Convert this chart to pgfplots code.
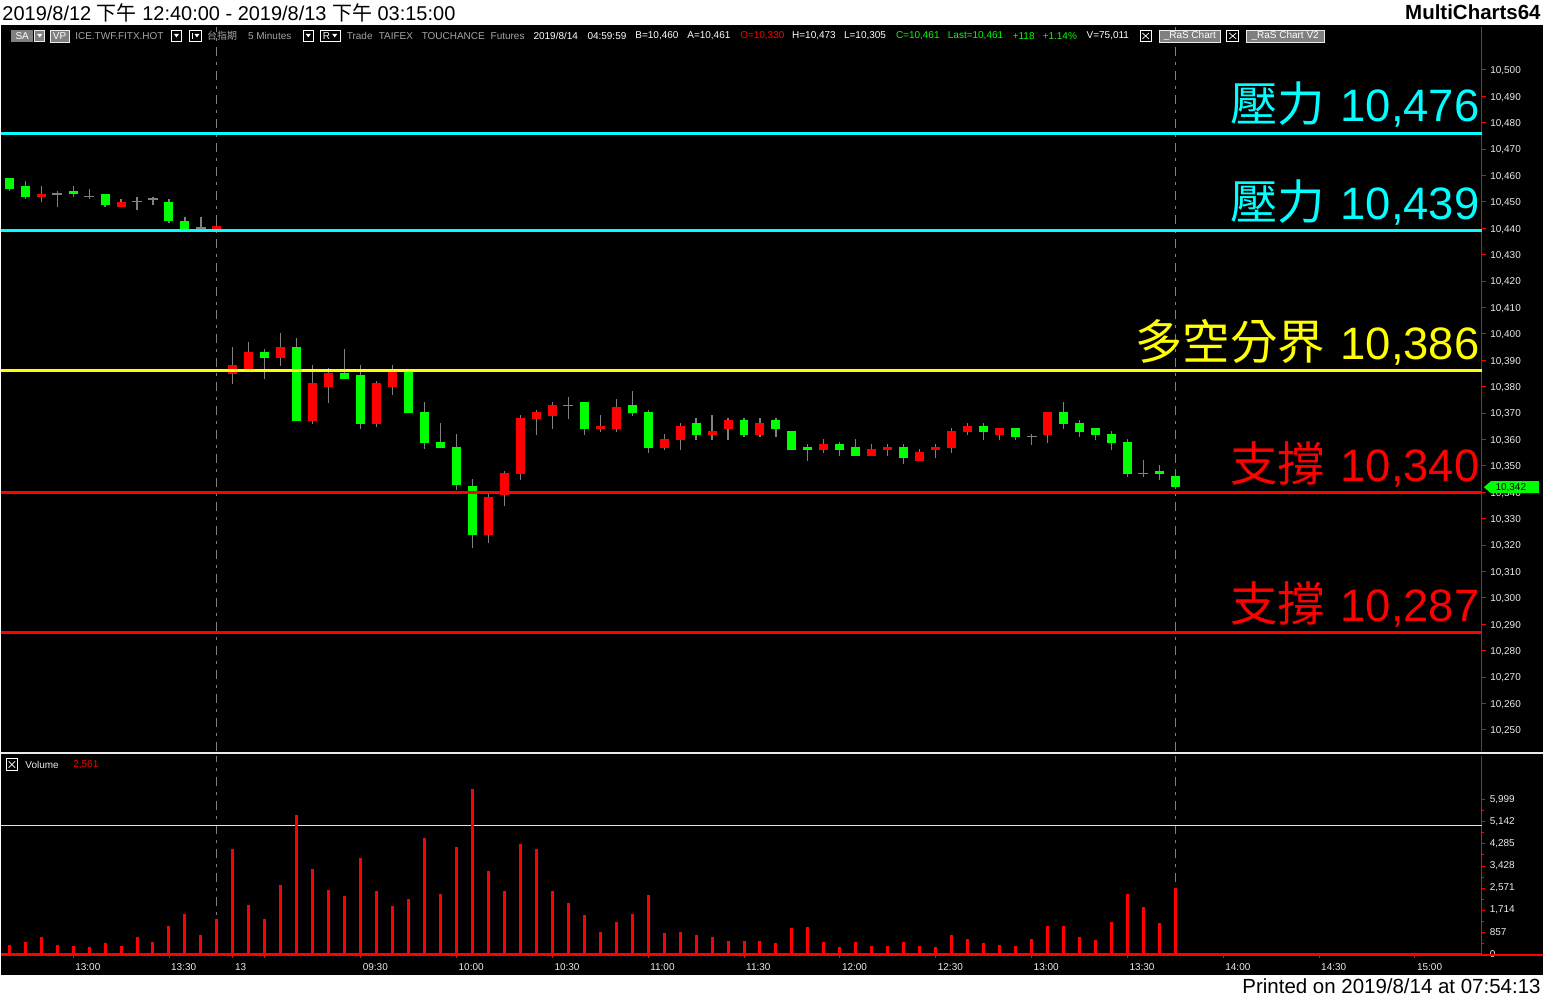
\documentclass[border=0pt]{standalone}
\usepackage{fontspec}
\setmainfont{Liberation Sans}
\newfontfamily\cjk{Noto Sans CJK TC}
\usepackage{pgfplots}
\usepackage{pgfplotstable}
\pgfplotsset{compat=1.18}

\definecolor{cy}{RGB}{0,255,255}
\definecolor{rd}{RGB}{255,0,0}
\definecolor{gn}{RGB}{0,255,0}
\definecolor{yl}{RGB}{255,255,0}
\definecolor{wk}{RGB}{128,128,128}
\definecolor{hdr}{RGB}{165,165,165}
\definecolor{lbl}{RGB}{235,235,235}
\definecolor{btn}{RGB}{128,128,128}

\newcommand\sm{\fontsize{10}{12}\selectfont}
\newcommand\lvlfont{\fontsize{45.5}{50}\selectfont}
\newcommand\bigcjk[1]{{\cjk\fontsize{47.5}{50}\selectfont #1}\hspace{3pt}}

\pgfplotstableread{
x o h l c
0 10459.2 10459.2 10454.0 10454.7
1 10456.1 10458.0 10451.0 10451.7
2 10451.7 10456.1 10449.8 10453.1
3 10453.0 10454.2 10447.9 10453.0
4 10454.2 10456.1 10451.7 10452.8
5 10451.9 10455.0 10451.0 10451.9
6 10453.1 10453.1 10447.9 10448.7
7 10447.9 10451.2 10447.9 10450.1
8 10450.0 10452.0 10446.8 10450.0
9 10451.1 10452.0 10448.7 10451.1
10 10450.1 10451.2 10441.9 10442.6
11 10442.9 10444.1 10439.5 10439.5
12 10440.1 10444.1 10438.7 10440.1
13 10439.8 10441.5 10439.0 10441.0
14 10384.8 10395.2 10381.0 10388.1
15 10386.5 10397.1 10386.0 10393.0
16 10393.0 10394.1 10382.9 10390.8
17 10390.8 10400.2 10387.8 10395.2
18 10395.2 10398.3 10367.0 10367.0
19 10367.0 10388.1 10365.9 10381.2
20 10379.8 10386.9 10373.8 10385.0
21 10385.0 10394.1 10382.9 10382.9
22 10384.3 10388.1 10364.0 10365.9
23 10365.9 10382.0 10364.7 10381.2
24 10379.8 10388.1 10376.8 10385.5
25 10386.0 10386.5 10370.0 10370.0
26 10370.3 10374.1 10356.4 10358.7
27 10358.9 10366.1 10356.8 10356.8
28 10357.0 10362.0 10340.9 10342.8
29 10342.3 10344.9 10319.0 10323.9
30 10323.9 10339.3 10320.8 10338.1
31 10339.0 10348.0 10334.8 10347.2
32 10346.8 10369.1 10344.7 10368.0
33 10367.7 10371.0 10361.7 10370.3
34 10368.9 10374.1 10364.0 10372.9
35 10372.9 10375.9 10367.7 10372.9
36 10374.1 10374.1 10361.7 10364.0
37 10364.0 10369.1 10362.8 10365.0
38 10364.0 10375.2 10362.8 10372.2
39 10372.9 10378.2 10368.9 10370.0
40 10370.3 10371.0 10354.9 10356.8
41 10356.8 10362.0 10356.0 10360.1
42 10359.8 10366.1 10356.0 10365.0
43 10366.1 10368.0 10359.8 10361.7
44 10361.7 10369.1 10359.8 10363.1
45 10364.0 10368.0 10359.8 10367.3
46 10367.3 10368.0 10361.0 10361.7
47 10361.7 10368.0 10361.0 10366.1
48 10367.3 10368.0 10361.0 10364.0
49 10363.1 10363.1 10356.0 10356.0
50 10357.0 10358.2 10351.9 10356.0
51 10356.0 10360.1 10354.9 10358.2
52 10358.2 10358.9 10353.8 10356.0
53 10357.0 10360.1 10353.8 10353.8
54 10353.8 10358.2 10353.8 10356.3
55 10356.0 10358.2 10353.8 10357.0
56 10357.0 10358.2 10350.7 10353.0
57 10351.9 10356.3 10351.9 10355.1
58 10356.0 10358.2 10353.0 10357.0
59 10356.8 10364.2 10354.9 10363.1
60 10362.7 10366.1 10361.7 10365.0
61 10365.0 10366.1 10359.8 10362.7
62 10361.7 10364.2 10359.8 10364.2
63 10364.2 10364.2 10359.8 10361.0
64 10361.2 10362.0 10357.9 10361.2
65 10361.7 10370.3 10358.7 10370.3
66 10370.3 10374.1 10364.0 10365.9
67 10366.1 10367.3 10361.0 10362.7
68 10364.2 10364.2 10359.8 10361.7
69 10362.0 10363.1 10356.0 10358.7
70 10358.9 10360.1 10345.8 10346.9
71 10347.2 10352.1 10345.8 10347.2
72 10348.0 10350.2 10344.7 10346.9
73 10346.1 10348.0 10341.3 10342.0
}\ohlc

\pgfplotstableread{
x v
0 337
1 454
2 648
3 337
4 299
5 260
6 415
7 299
8 648
9 454
10 1113
11 1578
12 725
13 1384
14 4099
15 1927
16 1384
17 2703
18 5418
19 3323
20 2509
21 2276
22 3750
23 2470
24 1889
25 2160
26 4526
27 2354
28 4177
29 6426
30 3246
31 2470
32 4293
33 4099
34 2470
35 2005
36 1540
37 842
38 1268
39 1578
40 2315
41 803
42 842
43 725
44 648
45 493
46 493
47 493
48 415
49 997
50 1074
51 454
52 260
53 454
54 299
55 299
56 454
57 299
58 260
59 725
60 570
61 415
62 337
63 299
64 570
65 1113
66 1113
67 648
68 531
69 1268
70 2354
71 1850
72 1191
73 2561
}\vol

\begin{document}
\begin{tikzpicture}[x=1pt,y=1pt]
\fill[white] (0,0) rectangle (1544,999);
\fill[black] (0,22) rectangle (1544,974);

% ---------------- price panel ----------------
\begin{axis}[at={(0pt,247pt)}, anchor=south west, width=1483pt, height=725pt, scale only axis,
  xmin=-0.5, xmax=92.1875, ymin=10242.07, ymax=10516.26,
  axis x line=none, axis y line*=right,
  y axis line style={draw=rd, line width=1pt, -},
  ytick={10250,10260,...,10500}, minor y tick num=1,
  tick align=outside, major tick length=4pt, minor tick length=2pt,
  tick style={rd, line width=0.8pt},
  yticklabel style={text=lbl, font=\sm, xshift=1pt, yshift=-1pt},
  scaled y ticks=false,
  /pgf/number format/fixed, /pgf/number format/precision=0,
  /pgf/number format/1000 sep={,}, /pgf/number format/assume math mode=true,
  clip mode=individual]

\addplot[wk, line width=1pt, dash pattern=on 9pt off 6pt on 3pt off 6pt] coordinates {(13,10242.07) (13,10516.26)};
\addplot[wk, line width=1pt, dash pattern=on 9pt off 6pt on 3pt off 6pt] coordinates {(73,10242.07) (73,10516.26)};

% wicks
\addplot[draw=none, mark=none, error bars/.cd, y dir=plus, y explicit, error mark=none,
  error bar style={draw=wk, line width=1.2pt}]
  table[x=x, y=l, y error plus expr=\thisrow{h}-\thisrow{l}] {\ohlc};
% up bodies (red)
\addplot[draw=none, mark=none, restrict expr to domain={\thisrow{c}-\thisrow{o}}{0.01:1000},
  error bars/.cd, y dir=plus, y explicit, error mark=none, error bar style={draw=rd, line width=9pt}]
  table[x=x, y=o, y error plus expr=\thisrow{c}-\thisrow{o}] {\ohlc};
% down bodies (green)
\addplot[draw=none, mark=none, restrict expr to domain={\thisrow{o}-\thisrow{c}}{0.01:1000},
  error bars/.cd, y dir=plus, y explicit, error mark=none, error bar style={draw=gn, line width=9pt}]
  table[x=x, y=c, y error plus expr=\thisrow{o}-\thisrow{c}] {\ohlc};
% doji
\addplot[draw=none, mark=none, restrict expr to domain={\thisrow{c}-\thisrow{o}}{-0.001:0.001},
  error bars/.cd, x dir=both, x fixed=0.3125, error mark=none, error bar style={draw=wk, line width=1.2pt}]
  table[x=x, y=o] {\ohlc};

% levels
\addplot[cy, line width=3pt] coordinates {(-0.5,10476) (92.1875,10476)};
\addplot[cy, line width=3pt] coordinates {(-0.5,10439) (92.1875,10439)};
\addplot[yl, line width=3pt] coordinates {(-0.5,10386) (92.1875,10386)};
\addplot[rd, line width=3pt] coordinates {(-0.5,10340) (92.1875,10340)};
\addplot[rd, line width=3pt] coordinates {(-0.5,10287) (92.1875,10287)};

\node[anchor=base east, inner sep=0, text=cy, font=\lvlfont, yshift=12pt] at (axis cs:92.06,10476) {\bigcjk{壓力} 10,476};
\node[anchor=base east, inner sep=0, text=cy, font=\lvlfont, yshift=11pt] at (axis cs:92.06,10439) {\bigcjk{壓力} 10,439};
\node[anchor=base east, inner sep=0, text=yl, font=\lvlfont, yshift=11pt] at (axis cs:92.06,10386) {\bigcjk{多空分界} 10,386};
\node[anchor=base east, inner sep=0, text=rd, font=\lvlfont, yshift=11pt] at (axis cs:92.06,10340) {\bigcjk{支撐} 10,340};
\node[anchor=base east, inner sep=0, text=rd, font=\lvlfont, yshift=11pt] at (axis cs:92.06,10287) {\bigcjk{支撐} 10,287};
\end{axis}

% ---------------- volume panel ----------------
\begin{axis}[at={(0pt,43.3pt)}, anchor=south west, width=1483pt, height=198.7pt, scale only axis,
  xmin=-0.5, xmax=92.1875, ymin=0, ymax=7706,
  axis x line*=bottom, axis y line*=right,
  x axis line style={draw=rd, line width=2pt, -},
  y axis line style={draw=rd, line width=1pt, -},
  xtick={4,10,14,16,22,28,34,40,46,52,58,64,70,76,82,88},
  xticklabels={13:00,13:30,13,{},09:30,10:00,10:30,11:00,11:30,12:00,12:30,13:00,13:30,14:00,14:30,15:00},
  xticklabel style={anchor=north west, text=lbl, font=\sm, inner sep=1pt, xshift=1pt, yshift=-5pt},
  ytick={0,857,...,5999}, minor y tick num=1,
  tick align=outside, major tick length=3.5pt, minor tick length=2pt,
  tick style={rd, line width=0.8pt},
  yticklabel style={text=lbl, font=\sm, xshift=1pt},
  scaled y ticks=false,
  /pgf/number format/fixed, /pgf/number format/precision=0,
  /pgf/number format/1000 sep={,}, /pgf/number format/assume math mode=true,
  clip mode=individual]
\addplot[wk, line width=1pt, dash pattern=on 9pt off 6pt on 3pt off 6pt] coordinates {(13,0) (13,7706)};
\addplot[wk, line width=1pt, dash pattern=on 9pt off 6pt on 3pt off 6pt] coordinates {(73,0) (73,7706)};
\addplot[yl, line width=1.3pt] coordinates {(-0.5,5000) (92.1875,5000)};
\addplot[ycomb, rd, line width=3pt, mark=none] table[x=x, y=v] {\vol};
\end{axis}

% separators and frame pieces
\draw[lbl, line width=2.5pt] (0,245) -- (1544,245);
\draw[rd, line width=2pt] (0,42.8) -- (1544,42.8);

% last-price tag
\fill[gn] (1485,511) -- (1492,517) -- (1540,517) -- (1540,505) -- (1492,505) -- cycle;
\node[anchor=center, inner sep=0, font=\sm, text=black] at (1512,511) {10,342};

% volume label
\draw[white, line width=0.7pt] (5,227.5) rectangle (16.5,239);
\draw[white, line width=0.7pt] (7.5,230) -- (14,236.5) (7.5,236.5) -- (14,230);
\node[anchor=west, inner sep=0, font=\sm, text=lbl] at (24,233) {Volume};
\node[anchor=west, inner sep=0, font=\sm, text=rd] at (72,233) {2,561};

% header row
\fill[btn] (10,957) rectangle (32,969);
\node[anchor=center, inner sep=0, font=\sm, text=white] at (21,963) {SA};
\draw[lbl, line width=0.6pt, fill=btn] (33.5,957.5) rectangle (43.5,968.5);
\fill[white] (36,965) -- (41,965) -- (38.5,961.5) -- cycle;
\fill[btn] (49,957) rectangle (68,969);
\draw[lbl, line width=0.6pt] (49,957) rectangle (68,969);
\node[anchor=center, inner sep=0, font=\sm, text=white] at (58.5,963) {VP};
\node[anchor=west, inner sep=0, font=\sm, text=hdr] at (74,963) {ICE.TWF.FITX.HOT};
\draw[white, line width=0.6pt] (170.5,957.5) rectangle (180.5,968.5);
\fill[white] (173,965) -- (178,965) -- (175.5,961.5) -- cycle;
\draw[white, line width=0.6pt] (188,957.5) rectangle (200.5,968.5);
\draw[white, line width=0.8pt] (191,960) -- (191,966);
\fill[white] (193.5,965) -- (198.5,965) -- (196,961.5) -- cycle;
\node[anchor=west, inner sep=0, font=\sm, text=hdr] at (206,963) {\cjk 台指期};
\node[anchor=west, inner sep=0, font=\sm, text=hdr] at (247,963) {5 Minutes};
\draw[white, line width=0.6pt] (302.5,957.5) rectangle (312.5,968.5);
\fill[white] (305,965) -- (310,965) -- (307.5,961.5) -- cycle;
\draw[white, line width=0.6pt] (320,957.5) rectangle (340,968.5);
\node[anchor=west, inner sep=0, font=\sm, text=white] at (322,963) {R};
\fill[white] (331.5,965) -- (336.5,965) -- (334,961.5) -- cycle;
\node[anchor=west, inner sep=0, font=\sm, text=hdr] at (346,963) {Trade};
\node[anchor=west, inner sep=0, font=\sm, text=hdr] at (378,963) {TAIFEX};
\node[anchor=west, inner sep=0, font=\sm, text=hdr] at (421,963) {TOUCHANCE};
\node[anchor=west, inner sep=0, font=\sm, text=hdr] at (490,963) {Futures};
\node[anchor=west, inner sep=0, font=\sm, text=white] at (533,963) {2019/8/14};
\node[anchor=west, inner sep=0, font=\sm, text=white] at (587,963) {04:59:59};
\node[anchor=west, inner sep=0, font=\sm, text=white] at (635,963) {B=10,460};
\node[anchor=west, inner sep=0, font=\sm, text=white] at (687,963) {A=10,461};
\node[anchor=west, inner sep=0, font=\sm, text=rd] at (740,963) {O=10,330};
\node[anchor=west, inner sep=0, font=\sm, text=white] at (792,963) {H=10,473};
\node[anchor=west, inner sep=0, font=\sm, text=white] at (844,963) {L=10,305};
\node[anchor=west, inner sep=0, font=\sm, text=gn] at (896,963) {C=10,461};
\node[anchor=west, inner sep=0, font=\sm, text=gn] at (948,963) {Last=10,461};
\node[anchor=west, inner sep=0, font=\sm, text=gn] at (1013,963) {+118};
\node[anchor=west, inner sep=0, font=\sm, text=gn] at (1043,963) {+1.14\%};
\node[anchor=west, inner sep=0, font=\sm, text=white] at (1087,963) {V=75,011};
\draw[white, line width=0.6pt] (1140.5,957.5) rectangle (1152,968.5);
\draw[white, line width=0.7pt] (1143,960) -- (1149.5,966) (1143,966) -- (1149.5,960);
\fill[btn] (1160,957) rectangle (1221,969);
\draw[lbl, line width=0.6pt] (1160,957) rectangle (1221,969);
\node[anchor=center, inner sep=0, font=\sm, text=white] at (1190.5,963) {\_RaS Chart};
\draw[white, line width=0.6pt] (1227.5,957.5) rectangle (1239.5,968.5);
\draw[white, line width=0.7pt] (1230,960) -- (1237,966) (1230,966) -- (1237,960);
\fill[btn] (1247,957) rectangle (1325,969);
\draw[lbl, line width=0.6pt] (1247,957) rectangle (1325,969);
\node[anchor=center, inner sep=0, font=\sm, text=white] at (1286,963) {\_RaS Chart V2};

% title and footer
\node[anchor=west, inner sep=0, font=\fontsize{20}{22}\selectfont, text=black] at (1,986.5)
  {2019/8/12 {\cjk 下午} 12:40:00 - 2019/8/13 {\cjk 下午} 03:15:00};
\node[anchor=east, inner sep=0, font=\fontsize{20.5}{22}\selectfont\bfseries, text=black] at (1542,986.5) {MultiCharts64};
\node[anchor=east, inner sep=0, font=\fontsize{20.5}{22}\selectfont, text=black] at (1542,11) {Printed on 2019/8/14 at 07:54:13};
\end{tikzpicture}
\end{document}
